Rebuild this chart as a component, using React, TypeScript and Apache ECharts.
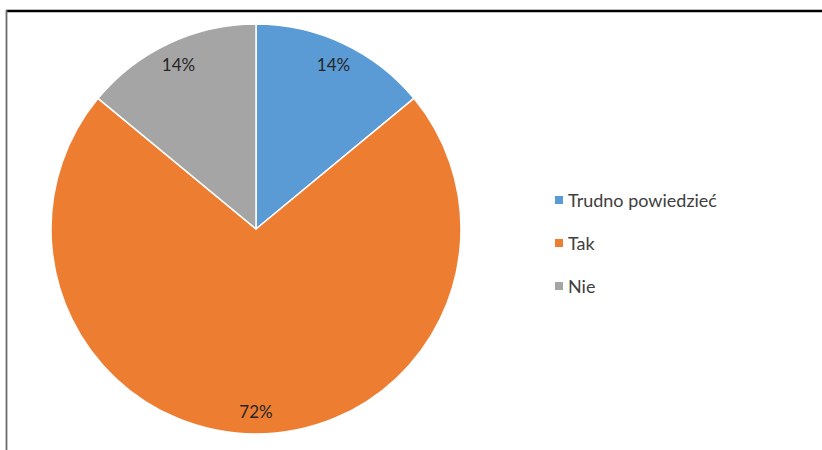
import React, { useEffect, useRef } from "react";
import * as echarts from "echarts";

const categories = ["Trudno powiedzieć", "Tak", "Nie"];
const values = [14, 72, 14];
const colors = ["#5B9BD5", "#ED7D31", "#A5A5A5"];

export default function App() {
  const ref = useRef<HTMLDivElement>(null);
  useEffect(() => {
    if (!ref.current) return;
    const chart = echarts.init(ref.current, undefined, { renderer: "svg" });
    const data = categories.map((name, i) => ({
      name,
      value: values[i],
      itemStyle: { color: colors[i] },
    }));
    const font = "Lato, 'Open Sans', sans-serif";
    chart.setOption({
      animation: false,
      backgroundColor: "#ffffff",
      legend: {
        orient: "vertical",
        left: 548,
        top: 186,
        icon: "rect",
        itemWidth: 10,
        itemHeight: 10,
        itemGap: 25,
        data: categories,
        textStyle: { fontFamily: font, fontSize: 18, color: "#404040", padding: [0, 0, 0, -1] },
        selectedMode: false,
      },
      graphic: [
        {
          type: "line",
          shape: { x1: 6, y1: 11, x2: 822, y2: 11 },
          style: { stroke: "#000000", lineWidth: 2.5 },
        },
        {
          type: "line",
          shape: { x1: 6.5, y1: 10, x2: 6.5, y2: 450 },
          style: { stroke: "#6b6b6b", lineWidth: 1.8 },
        },
      ],
      series: [
        {
          type: "pie",
          name: "main",
          center: [256, 229],
          radius: [0, 205],
          startAngle: 90,
          clockwise: true,
          label: { show: false },
          labelLine: { show: false },
          itemStyle: { borderColor: "#ffffff", borderWidth: 1.5 },
          emphasis: { disabled: true },
          data,
        },
        {
          type: "pie",
          name: "labels",
          center: [256, 229],
          radius: [150, 208],
          startAngle: 90,
          clockwise: true,
          silent: true,
          itemStyle: { color: "rgba(0,0,0,0)", borderWidth: 0 },
          label: {
            show: true,
            position: "inside",
            formatter: (p: any) => `${p.value}%`,
            fontFamily: font,
            fontSize: 17,
            color: "#262626",
          },
          labelLine: { show: false },
          emphasis: { disabled: true },
          data: categories.map((name, i) => ({ name, value: values[i] })),
        },
      ],
    });
    return () => chart.dispose();
  }, []);
  return (
    <div
      ref={ref}
      style={{ position: "fixed", left: 0, top: 0, width: 822, height: 450 }}
    />
  );
}
